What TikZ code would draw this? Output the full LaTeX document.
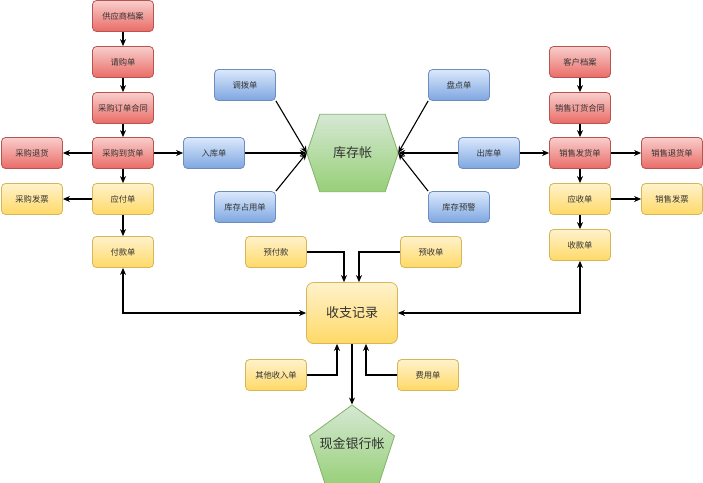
\documentclass[tikz,border=0pt]{standalone}
\usepackage{fontspec}
\newfontfamily\cjk{Noto Sans CJK SC}
\usetikzlibrary{arrows.meta,shapes.geometric}
\definecolor{REDtop}{HTML}{F8CECC}
\definecolor{REDbot}{HTML}{EA6B66}
\definecolor{REDline}{HTML}{B85450}
\definecolor{BLUtop}{HTML}{DAE8FC}
\definecolor{BLUbot}{HTML}{7EA6E0}
\definecolor{BLUline}{HTML}{6C8EBF}
\definecolor{YELtop}{HTML}{FFF2CC}
\definecolor{YELbot}{HTML}{FFD966}
\definecolor{YELline}{HTML}{D6B656}
\definecolor{GRNtop}{HTML}{D5E8D4}
\definecolor{GRNbot}{HTML}{97D077}
\definecolor{GRNline}{HTML}{82B366}
\definecolor{TXT}{HTML}{333333}
\tikzset{
  doc/.style={rectangle, rounded corners=4pt, minimum width=61pt, minimum height=31pt,
    inner sep=1pt, line width=0.8pt, text=TXT, font=\cjk\fontsize{8.3}{9}\selectfont},
  reddoc/.style={doc, draw=REDline, top color=REDtop, bottom color=REDbot},
  bludoc/.style={doc, draw=BLUline, top color=BLUtop, bottom color=BLUbot},
  yeldoc/.style={doc, draw=YELline, top color=YELtop, bottom color=YELbot},
  big/.style={text=TXT, font=\cjk\fontsize{13}{15}\selectfont},
  grnfill/.style={draw=GRNline, line width=0.8pt, top color=GRNtop, bottom color=GRNbot},
  arr/.style={-{Stealth[length=7pt,width=6pt]}, line width=1.1pt},
  darr/.style={{Stealth[length=7pt,width=6pt]}-{Stealth[length=7pt,width=6pt]}, line width=1.1pt}
}

\begin{document}
\begin{tikzpicture}[x=1pt,y=-1pt]
  \useasboundingbox (0,0) rectangle (703,482);
  % purchase side
  \node[reddoc] (gys) at (123,16) {供应商档案};
  \node[reddoc] (qgd) at (123,62) {请购单};
  \node[reddoc] (cght) at (123,108) {采购订单合同};
  \node[reddoc] (cgdh) at (123,153) {采购到货单};
  \node[reddoc] (cgth) at (32,153) {采购退货};
  \node[yeldoc] (yfd) at (123,199) {应付单};
  \node[yeldoc] (cgfp) at (32,199) {采购发票};
  \node[yeldoc] (fkd) at (123,252) {付款单};
  % stock
  \node[bludoc] (rkd) at (214,153) {入库单};
  \node[bludoc] (dbd) at (245,85) {调拨单};
  \node[bludoc] (kczy) at (245,207) {库存占用单};
  \node[bludoc] (pdd) at (459,85) {盘点单};
  \node[bludoc] (kcyj) at (459,207) {库存预警};
  \node[bludoc] (ckd) at (489,153) {出库单};
  \node[big, minimum width=91pt, minimum height=77pt, inner sep=0pt] (kcz) at (352.5,153) {};
  \begin{scope}[y=1pt]
    \draw[grnfill] (kcz.west) -- ([xshift=13pt]kcz.north west) -- ([xshift=-13pt]kcz.north east)
      -- (kcz.east) -- ([xshift=-13pt]kcz.south east) -- ([xshift=13pt]kcz.south west) -- cycle;
  \end{scope}
  \node[big] at (kcz.center) {库存帐};
  % sales side
  \node[reddoc] (khda) at (580,62) {客户档案};
  \node[reddoc] (xsht) at (580,108) {销售订货合同};
  \node[reddoc] (xsfh) at (580,153) {销售发货单};
  \node[reddoc] (xsth) at (672,153) {销售退货单};
  \node[yeldoc] (ysd) at (580,199) {应收单};
  \node[yeldoc] (xsfp) at (672,199) {销售发票};
  \node[yeldoc] (skd) at (580,245) {收款单};
  % money
  \node[yeldoc] (yfk) at (276,252) {预付款};
  \node[yeldoc] (ysdan) at (431,252) {预收单};
  \node[yeldoc, big, rounded corners=7pt, minimum width=91pt, minimum height=61pt] (szjl) at (352,313) {收支记录};
  \node[yeldoc] (qtsr) at (276,375) {其他收入单};
  \node[yeldoc] (fyd) at (428,375) {费用单};
  \node[regular polygon, regular polygon sides=5, minimum size=89.4pt, inner sep=0pt,
    grnfill] (xjyh) at (352,449.7) {};
  \node[big] at ([yshift=6pt]xjyh.center) {现金银行帐};

  \draw[arr] (gys) -- (qgd);
  \draw[arr] (qgd) -- (cght);
  \draw[arr] (cght) -- (cgdh);
  \draw[arr] (cgdh) -- (cgth);
  \draw[arr] (cgdh) -- (rkd);
  \draw[arr] (cgdh) -- (yfd);
  \draw[arr] (yfd) -- (cgfp);
  \draw[arr] (yfd) -- (fkd);
  \draw[arr] (rkd) -- (kcz.west);
  \draw[arr] (dbd.south east) -- (kcz.west);
  \draw[arr] (kczy.north east) -- (kcz.west);
  \draw[arr] (pdd.south west) -- (kcz.east);
  \draw[arr] (kcyj.north west) -- (kcz.east);
  \draw[arr] (ckd) -- (kcz.east);
  \draw[arr] (ckd) -- (xsfh);
  \draw[arr] (khda) -- (xsht);
  \draw[arr] (xsht) -- (xsfh);
  \draw[arr] (xsfh) -- (xsth);
  \draw[arr] (xsfh) -- (ysd);
  \draw[arr] (ysd) -- (xsfp);
  \draw[arr] (ysd) -- (skd);
  \draw[darr] (fkd.south) |- (szjl.west);
  \draw[darr] (skd.south) |- (szjl.east);
  \draw[arr] (yfk.east) -| ([xshift=-8pt]szjl.north);
  \draw[arr] (ysdan.west) -| ([xshift=7pt]szjl.north);
  \draw[arr] (qtsr.east) -| ([xshift=-15pt]szjl.south);
  \draw[arr] (fyd.west) -| ([xshift=14pt]szjl.south);
  \draw[arr] (szjl) -- (xjyh.north);
\end{tikzpicture}
\end{document}
